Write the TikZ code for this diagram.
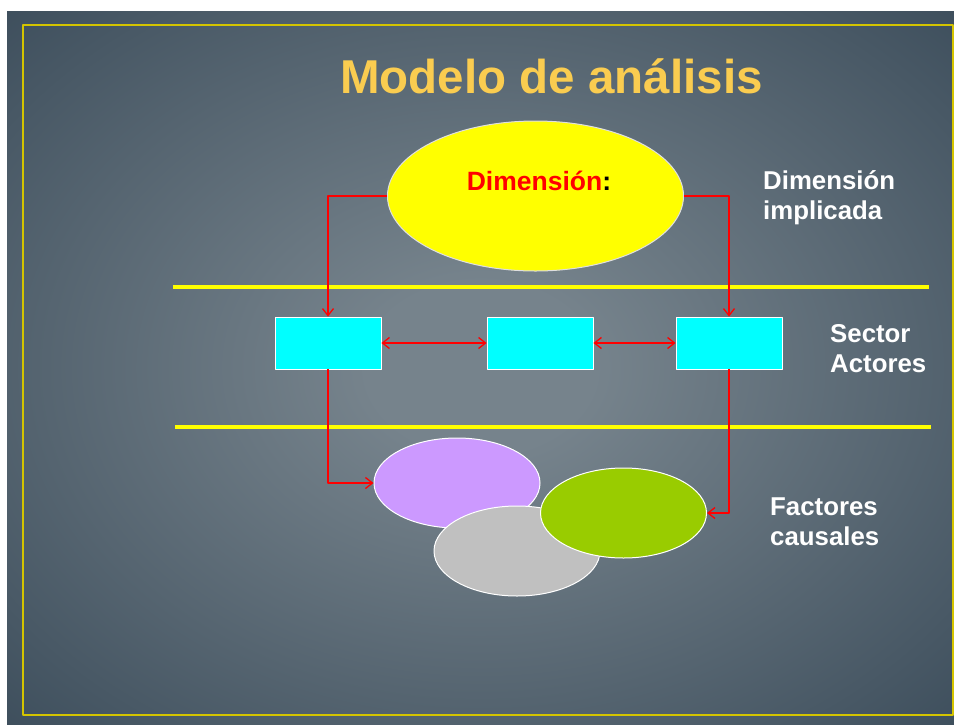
\documentclass[tikz,border=0pt]{standalone}
\usepackage{fontspec}
\setmainfont{Liberation Sans}
\usetikzlibrary{shapes.geometric,arrows.meta}
\definecolor{titulo}{RGB}{250,204,80}
\definecolor{marco}{RGB}{212,196,0}
\definecolor{fondoin}{RGB}{118,131,140}
\definecolor{fondoout}{RGB}{14,34,52}
\definecolor{lila}{RGB}{204,153,255}
\definecolor{verde}{RGB}{153,204,0}
\definecolor{gris}{RGB}{192,192,192}
\definecolor{amarillo}{RGB}{255,255,0}
\definecolor{celeste}{RGB}{0,255,255}
\definecolor{rojo}{RGB}{255,0,0}
\pgfdeclareradialshading{diapo}{\pgfpoint{0bp}{0bp}}{color(0bp)=(fondoin); color(6bp)=(fondoin); color(61bp)=(fondoout)}
\begin{document}
\begin{tikzpicture}[x=1pt, y=-1pt, line join=round, >={Straight Barb[length=7pt,width=11pt]}]
	\tikzset{
		rotulo/.style={font=\fontsize{25.8}{30}\selectfont\bfseries, text=white, align=left, anchor=base west, inner sep=0pt},
		actor/.style={draw=white, line width=0.8pt, fill=celeste, minimum width=106pt, minimum height=52pt, inner sep=0pt},
		factor/.style={ellipse, draw=white, line width=1pt, minimum width=166pt, minimum height=90pt, inner sep=0pt},
		flecha/.style={rojo, line width=1.3pt, ->},
		franja/.style={amarillo, line width=4pt}
	}
	\useasboundingbox (0,0) rectangle (954,724);
	\fill[white] (0,0) rectangle (954,724);
	\shade[shading=diapo] (7,11) rectangle (954,724);
	\draw[marco, line width=2pt] (23,25) rectangle (953,715);
	\node[font=\fontsize{47.5}{50}\selectfont\bfseries, text=titulo, anchor=base, inner sep=0pt] (titulo) at (551.5,93) {Modelo de análisis};
	\node[ellipse, fill=amarillo, draw=gray!25, line width=1pt, minimum width=296pt, minimum height=150pt, inner sep=0pt] (dim) at (535.5,196) {};
	\node[font=\fontsize{26.5}{30}\selectfont\bfseries, anchor=base, inner sep=0pt] (dimtxt) at (539,190) {\textcolor{rojo}{Dimensión}:};
	\draw[franja] (173,287) -- (929,287);
	\draw[franja] (175,427) -- (931,427);
	\foreach \n/\x in {sa/328, sb/540, sc/729} \node[actor] (\n) at (\x,343) {};
	\draw[flecha] (dim.west) -| (sa.north);
	\draw[flecha] (dim.east) -| (sc.north);
	\draw[flecha, <->] (sa) -- (sb);
	\draw[flecha, <->] (sb) -- (sc);
	\node[factor, fill=lila] (fa) at (457,483) {};
	\node[factor, fill=gris] (fb) at (517,551) {};
	\node[factor, fill=verde] (fc) at (623.5,513) {};
	\draw[flecha] (sa.south) |- (fa.west);
	\draw[flecha] (sc.south) |- (fc.east);
	\node[rotulo] (dimimp) at (763,219) {Dimensión\\implicada};
	\node[rotulo] (sector) at (830,372) {Sector\\Actores};
	\node[rotulo] (factores) at (770,545) {Factores\\causales};
\end{tikzpicture}
\end{document}
